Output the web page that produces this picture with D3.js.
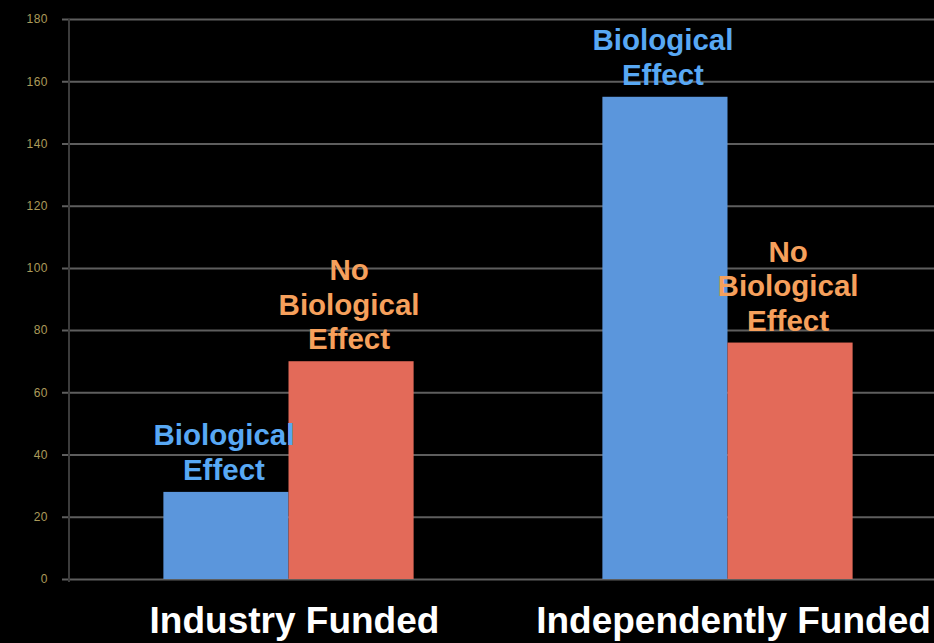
<!DOCTYPE html>
<html>
<head>
<meta charset="utf-8">
<script src="https://cdn.jsdelivr.net/npm/d3@7"></script>
<style>
  html, body { margin: 0; padding: 0; background: #000; }
  svg { display: block; font-family: "Liberation Sans", Arial, sans-serif; }
</style>
</head>
<body>
<svg width="934" height="643"></svg>
<script>
// data
const groups = ["Industry Funded", "Independently Funded"];
const series = ["Biological Effect", "No Biological Effect"];
const bioEffect = [28, 155];
const noBioEffect = [70, 76];
const yTicks = [0, 20, 40, 60, 80, 100, 120, 140, 160, 180];
const barLabels = [["Biological", "Effect"], ["No", "Biological", "Effect"]];

const colours = ["#5b96dc", "#e36a59"];
const labelColours = ["#58a8f4", "#f6a05c"];

const svg = d3.select("svg");
const W = 934, H = 643;

const y = d3.scaleLinear().domain([0, 180]).range([579, 19]);
const x0 = d3.scaleBand().domain(groups).range([69, 947])
    .paddingInner(0.43).paddingOuter(0.215);
const x1 = d3.scaleBand().domain(series).range([0, x0.bandwidth()]);

// gridlines + axis
const yAxis = d3.axisLeft(y).tickValues(yTicks)
    .tickSize(-(W - 62))
    .tickPadding(20);

const ax = svg.append("g")
    .attr("transform", "translate(62,0)")
    .call(yAxis);
ax.select(".domain").remove();
ax.selectAll(".tick line")
    .attr("stroke", "#5e5e5e")
    .attr("stroke-width", 2);
ax.selectAll(".tick text")
    .attr("fill", "#c9b66a")
    .attr("x", -14)
    .style("font-size", "12px")
    .style("letter-spacing", "0.5px")
    .style("opacity", 0.85);

svg.append("line")
    .attr("x1", 69).attr("x2", 69)
    .attr("y1", y(180)).attr("y2", y(0) + 3)
    .attr("stroke", "#3c3c3c")
    .attr("stroke-width", 2);

const rows = groups.map((g, i) => ({group: g, values: [bioEffect[i], noBioEffect[i]]}));

const grp = svg.selectAll(".groupe")
    .data(rows)
    .join("g")
    .attr("class", "groupe")
    .attr("transform", d => `translate(${x0(d.group)},0)`);

grp.selectAll("rect")
    .data(d => d.values.map((v, j) => ({s: series[j], j: j, v: v})))
    .join("rect")
    .attr("x", d => x1(d.s))
    .attr("y", d => y(d.v))
    .attr("width", x1.bandwidth())
    .attr("height", d => y(0) - y(d.v))
    .attr("fill", d => colours[d.j]);

// labels above bars
grp.selectAll(".barlabel")
    .data(d => d.values.map((v, j) => ({s: series[j], j: j, v: v})))
    .join("text")
    .attr("class", "barlabel")
    .attr("text-anchor", "middle")
    .attr("fill", d => labelColours[d.j])
    .style("font-size", "29.5px")
    .style("font-weight", "bold")
    .each(function(d) {
        const lines = barLabels[d.j];
        const cx = x1(d.s) + x1.bandwidth() / 2;
        const base = y(d.v) - 12;
        d3.select(this).selectAll("tspan")
            .data(lines)
            .join("tspan")
            .attr("x", cx - 2)
            .attr("y", (t, k) => base - (lines.length - 1 - k) * 34.5)
            .text(t => t);
    });

// group names
svg.selectAll(".groupname")
    .data(groups)
    .join("text")
    .attr("class", "groupname")
    .attr("x", d => x0(d) + x0.bandwidth() / 2 + 6)
    .attr("y", 633)
    .attr("text-anchor", "middle")
    .attr("fill", "#fff")
    .style("font-size", "37px")
    .style("font-weight", "bold")
    .text(d => d);
</script>
</body>
</html>
